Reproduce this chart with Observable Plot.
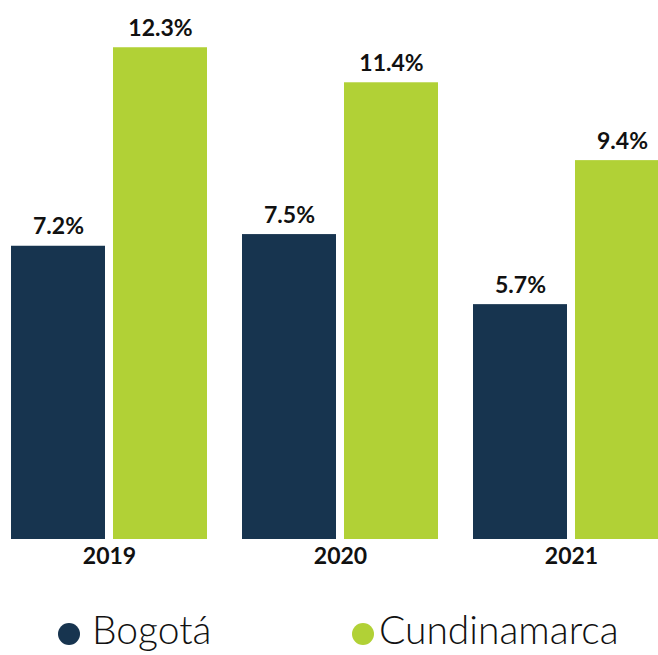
<!DOCTYPE html>
<html><head><meta charset="utf-8">
<script src="https://cdn.jsdelivr.net/npm/d3@7"></script>
<script src="https://cdn.jsdelivr.net/npm/@observablehq/plot@0.6"></script>
<style>
html,body{margin:0;padding:0;background:#fff;overflow:hidden}
#wrap{width:658px;overflow:hidden;}
#chart svg{display:block}
#legend{position:relative;height:75px;width:658px;font-family:Lato,sans-serif;font-weight:300;font-size:39px;color:#111}
.dot{position:absolute;width:22px;height:22px;border-radius:50%}
.lab{position:absolute;line-height:1;white-space:nowrap}
</style></head><body>
<div id="wrap"><div id="chart"></div><div id="legend"></div></div>
<script>
const years = ["2019", "2020", "2021"];
const series = ["Bogotá", "Cundinamarca"];
const bogota = [7.2, 7.5, 5.7];
const cundinamarca = [12.3, 11.4, 9.4];
const colors = ["#17344f", "#b1d136"];
const yMin = -0.334;

const data = years.flatMap((yr, i) => [
  {year: yr, series: series[0], value: bogota[i]},
  {year: yr, series: series[1], value: cundinamarca[i]}
]);

const chart = Plot.plot({
  width: 669, height: 580,
  marginLeft: 11, marginRight: 0, marginTop: 20, marginBottom: 41,
  style: {fontFamily: "Lato, sans-serif", maxWidth: "none", overflow: "visible", background: "#fff"},
  fx: {domain: years, paddingInner: 35 / 231, paddingOuter: 0, label: null},
  x: {domain: series, paddingInner: 8 / 102, paddingOuter: 0, axis: null},
  y: {domain: [yMin, 13], axis: null},
  color: {domain: series, range: colors},
  marks: [
    Plot.barY(data, {fx: "year", x: "series", y1: () => yMin, y2: "value", fill: "series"}),
    Plot.text(data, {fx: "year", x: "series", y: "value", text: d => d.value.toFixed(1) + "%",
      lineAnchor: "bottom", dy: -12, fontSize: 23, fontWeight: 700, fill: "#111"}),
    Plot.axisFx({anchor: "bottom", tickSize: 0, tickPadding: 8, fontSize: 23, fontWeight: 700, color: "#111", label: null})
  ]
});
document.getElementById("chart").append(chart);

const legend = document.getElementById("legend");
const items = [
  {dotX: 58, textX: 92},
  {dotX: 352, textX: 379}
];
series.forEach((s, i) => {
  const dot = document.createElement("div");
  dot.className = "dot";
  dot.style.left = items[i].dotX + "px";
  dot.style.top = "43px";
  dot.style.background = colors[i];
  legend.append(dot);
  const lab = document.createElement("span");
  lab.className = "lab";
  lab.style.left = items[i].textX + "px";
  lab.style.top = "30px";
  lab.textContent = s;
  legend.append(lab);
});
</script>
</body></html>
